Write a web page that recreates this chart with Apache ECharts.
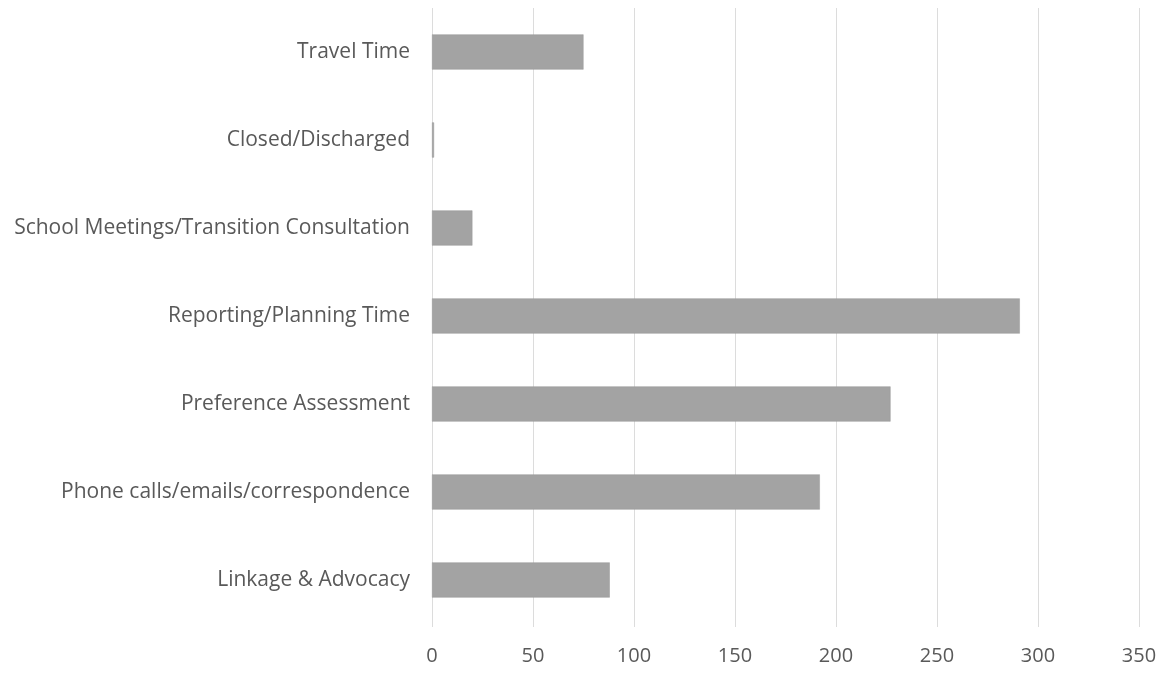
<!DOCTYPE html>
<html>
<head>
<meta charset="utf-8">
<script src="https://cdn.jsdelivr.net/npm/echarts@6/dist/echarts.min.js"></script>
<style>
  html, body { margin: 0; padding: 0; background: #ffffff; }
  #chart { width: 1164px; height: 673px; }
</style>
</head>
<body>
<div id="chart"></div>
<script>
// Activity categories, listed bottom to top
const categories = [
  'Linkage & Advocacy',
  'Phone calls/emails/correspondence',
  'Preference Assessment',
  'Reporting/Planning Time',
  'School Meetings/Transition Consultation',
  'Closed/Discharged',
  'Travel Time'
];

// Hours recorded per activity
const hours = [88, 192, 227, 291, 20, 1, 75];

// Value axis ticks
const xTicks = [0, 50, 100, 150, 200, 250, 300, 350];

const textFont = '"Open Sans", "Liberation Sans", sans-serif';
const chart = echarts.init(document.getElementById('chart'), null, { renderer: 'canvas' });

chart.setOption({
  backgroundColor: '#ffffff',
  animation: false,
  grid: { left: 432, right: 25, top: 8, bottom: 49, containLabel: false },
  xAxis: {
    type: 'value',
    min: xTicks[0],
    max: xTicks[xTicks.length - 1],
    interval: xTicks[1] - xTicks[0],
    axisLine: { show: false },
    axisTick: { show: true, length: 3, lineStyle: { color: '#dcdcdc' } },
    splitLine: { show: true, lineStyle: { color: '#dcdcdc', width: 1 } },
    axisLabel: { color: '#595959', fontFamily: textFont, fontSize: 20, margin: 22 }
  },
  yAxis: {
    type: 'category',
    data: categories,
    axisLine: { show: false },
    axisTick: { show: false },
    splitLine: { show: false },
    axisLabel: { color: '#595959', fontFamily: textFont, fontSize: 21, margin: 22 }
  },
  series: [{
    type: 'bar',
    data: hours,
    barCategoryGap: '60%',
    itemStyle: { color: '#a3a3a3', borderColor: '#999999', borderWidth: 0.5 }
  }]
});
</script>
</body>
</html>
